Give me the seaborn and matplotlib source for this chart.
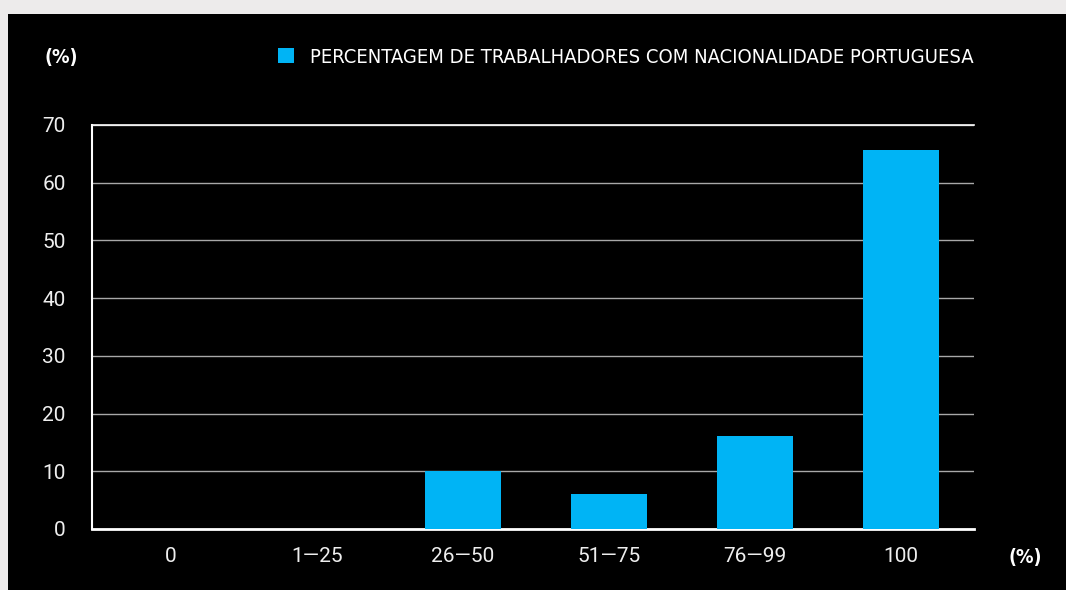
import matplotlib
matplotlib.use('Agg')
import matplotlib.pyplot as plt
import seaborn as sns
import pandas as pd
from matplotlib.patches import Rectangle
from matplotlib import font_manager

# dados
categorias = ['0', '1—25', '26—50', '51—75', '76—99', '100']
valores = [0, 0, 10.1, 6.1, 16.1, 65.6]
yticks = [0, 10, 20, 30, 40, 50, 60, 70]
serie = 'PERCENTAGEM DE TRABALHADORES COM NACIONALIDADE PORTUGUESA'

df = pd.DataFrame({'cat': categorias, 'val': valores, 'serie': serie})

sns.set_theme(style='white')
plt.rcParams['font.family'] = ['Roboto', 'DejaVu Sans']

# procurar uma variante estreita (condensed) entre as fontes instaladas
estreita = None
for f in font_manager.fontManager.ttflist:
    s = f.stretch
    if (isinstance(s, str) and 'condensed' in s) or (isinstance(s, int) and s < 500):
        estreita = (f.name, s)
        break

azul = '#00B4F5'
fundo = '#EDEBEB'

fig = plt.figure(figsize=(10.66, 5.9), dpi=100, facecolor=fundo)
fig.patches.append(Rectangle((8 / 1066, 0), 1, (590 - 14) / 590,
                             transform=fig.transFigure, facecolor='black',
                             edgecolor='none', zorder=-10))

ax = fig.add_axes([92 / 1066, 61 / 590, 882 / 1066, 404 / 590])
ax.set_facecolor('black')

sns.barplot(data=df, x='cat', y='val', hue='serie', palette=[azul],
            width=0.52, ax=ax, saturation=1, linewidth=0, zorder=3)

ax.set_xlim(-0.54, 5.5)
ax.set_ylim(0, 70)
ax.set_yticks(yticks)
ax.set_yticklabels([str(v) for v in yticks])
ax.set_xlabel('')
ax.set_ylabel('')

ax.grid(axis='y', color='#a8a8a8', linewidth=1, zorder=1)
ax.grid(axis='x', visible=False)

ax.spines['right'].set_visible(False)
ax.spines['top'].set_color('white')
ax.spines['top'].set_linewidth(1.2)
ax.spines['left'].set_color('white')
ax.spines['left'].set_linewidth(1.5)
ax.spines['bottom'].set_color('white')
ax.spines['bottom'].set_linewidth(2)

ax.tick_params(axis='y', length=0, pad=19, labelsize=15, labelcolor='#eeeeee')
ax.tick_params(axis='x', which='major', length=0, pad=13, labelsize=15,
               labelcolor='#eeeeee')
ax.set_xticks([i + 0.5 for i in range(6)], minor=True)
ax.tick_params(axis='x', which='minor', length=15, width=1.5, color='white',
               direction='out')

leg = ax.legend(loc='center right', bbox_to_anchor=(1.0, 1.168), frameon=False,
                handlelength=0.8, handleheight=0.8, handletextpad=0.8,
                borderpad=0, borderaxespad=0, fontsize=14.5)
for t in leg.get_texts():
    t.set_color('white')
    if estreita:
        t.set_fontfamily([estreita[0], 'DejaVu Sans'])
        t.set_fontstretch(estreita[1])

pct = dict(color='white', fontsize=14, fontweight='bold', va='center',
           ha='left', family=['DejaVu Sans'], fontstretch='condensed')
fig.text(44 / 1066, 1 - 58 / 590, '(%)', **pct)
fig.text(1008 / 1066, 1 - 557 / 590, '(%)', **pct)

fig.savefig('out.png', dpi=100, facecolor=fundo)
